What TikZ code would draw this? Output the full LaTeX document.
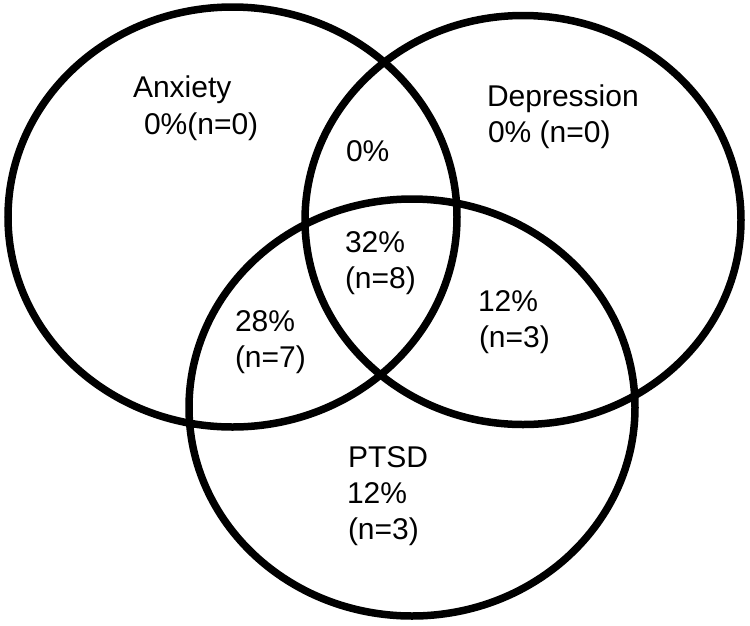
\documentclass[tikz,border=0pt]{standalone}
\usepackage{fontspec}
\setmainfont{Liberation Sans}
\begin{document}
\begin{tikzpicture}[x=1pt,y=-1pt,
  ring/.style={draw=black,line width=7.5pt},
  lbl/.style={anchor=base west,inner sep=0pt,outer sep=0pt,font=\fontsize{30}{36}\selectfont}]
\useasboundingbox (0,0) rectangle (750,625);
% circles
\draw[ring] (232.5,217) ellipse [x radius=224.5pt, y radius=210pt];
\draw[ring] (523,220) ellipse [x radius=218pt, y radius=204.5pt];
\draw[ring] (412,407.5) ellipse [x radius=223pt, y radius=208.5pt];
% labels
\node[lbl] (anx1) at (133,97) {Anxiety};
\node[lbl] (anx2) at (144,134) {0\%(n=0)};
\node[lbl] (dep1) at (487,106) {Depression};
\node[lbl] (dep2) at (488,142) {0\% (n=0)};
\node[lbl] (ad) at (346,161) {0\%};
\node[lbl] (all1) at (345,252) {32\%};
\node[lbl] (all2) at (345,288) {(n=8)};
\node[lbl] (ap1) at (235,331) {28\%};
\node[lbl] (ap2) at (235,367) {(n=7)};
\node[lbl] (dp1) at (478,311) {12\%};
\node[lbl] (dp2) at (479,347) {(n=3)};
\node[lbl] (pt1) at (348,467) {PTSD};
\node[lbl] (pt2) at (347,503) {12\%};
\node[lbl] (pt3) at (348,539) {(n=3)};
\end{tikzpicture}
\end{document}
